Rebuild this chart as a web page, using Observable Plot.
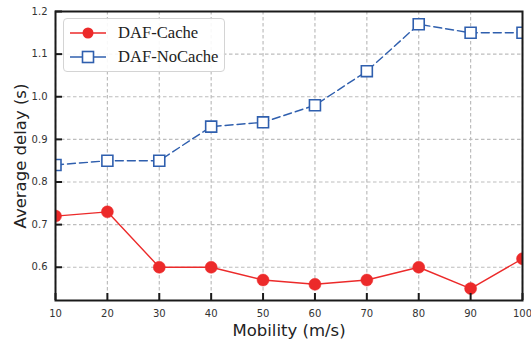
<!DOCTYPE html>
<html><head><meta charset="utf-8">
<script src="https://cdn.jsdelivr.net/npm/d3@7"></script>
<script src="https://cdn.jsdelivr.net/npm/@observablehq/plot@0.6"></script>
<style>
body{margin:0;background:#fff;}
#wrap{position:relative;width:531px;height:342px;}
.legend{position:absolute;left:63px;top:18px;width:162px;height:54px;border:1px solid #d4d4d4;border-radius:4px;background:rgba(255,255,255,0.9);box-sizing:border-box;font-family:"Liberation Serif","Times New Roman",serif;font-size:16.6px;color:#222;}
.legend .row{position:absolute;left:0;height:20px;width:100%;}
.legend svg{position:absolute;left:4px;top:0;}
.legend span{position:absolute;left:54px;top:0;line-height:20px;white-space:nowrap;}
</style></head><body><div id="wrap"></div>
<script>
const mobility = [10, 20, 30, 40, 50, 60, 70, 80, 90, 100];
const cacheDelay = [0.72, 0.73, 0.60, 0.60, 0.57, 0.56, 0.57, 0.60, 0.55, 0.62];
const noCacheDelay = [0.84, 0.85, 0.85, 0.93, 0.94, 0.98, 1.06, 1.17, 1.15, 1.15];
const seriesNames = ["DAF-Cache", "DAF-NoCache"];
const seriesColors = ["#ec2a2a", "#2f5fae"];
const xTicks = [10, 20, 30, 40, 50, 60, 70, 80, 90, 100];
const yTicks = [0.6, 0.7, 0.8, 0.9, 1.0, 1.1, 1.2];
const xLabel = "Mobility (m/s)";
const yLabel = "Average delay (s)";

const W = 531, H = 342, mL = 55, mR = 9, mT = 11, mB = 42;
const plotW = W - mL - mR, plotH = H - mT - mB;

const cache = mobility.map((m, i) => ({x: m, y: cacheDelay[i]}));
const noCache = mobility.map((m, i) => ({x: m, y: noCacheDelay[i]}));

const chart = Plot.plot({
  width: W, height: H,
  marginLeft: mL, marginRight: mR, marginTop: mT, marginBottom: mB,
  style: {fontFamily: "'DejaVu Sans', sans-serif", fontSize: "10px", color: "#333", background: "#fff"},
  x: {domain: [10, 100], ticks: xTicks},
  y: {domain: [0.522, 1.2], ticks: yTicks},
  marks: [
    Plot.gridX(xTicks, {stroke: "#bdbdbd", strokeOpacity: 1, strokeDasharray: "3.5,2.5", strokeWidth: 1.2}),
    Plot.gridY(yTicks, {stroke: "#bdbdbd", strokeOpacity: 1, strokeDasharray: "3.5,2.5", strokeWidth: 1.2}),
    Plot.line(noCache, {x: "x", y: "y", stroke: seriesColors[1], strokeWidth: 1.4, strokeDasharray: "8,4", clip: true}),
    Plot.dot(noCache, {x: "x", y: "y", symbol: "square", r: 6.2, fill: "#fff", stroke: seriesColors[1], strokeWidth: 1.6, clip: true}),
    Plot.line(cache, {x: "x", y: "y", stroke: seriesColors[0], strokeWidth: 1.4, clip: true}),
    Plot.dot(cache, {x: "x", y: "y", r: 6, fill: seriesColors[0], stroke: seriesColors[0], strokeWidth: 0.5, clip: true}),
    Plot.tickX(xTicks, {x: d => d, stroke: "#1a1a1a", strokeWidth: 2, insetTop: plotH - 7}),
    Plot.tickY(yTicks, {y: d => d, stroke: "#1a1a1a", strokeWidth: 2, insetRight: plotW - 7}),
    Plot.axisX(xTicks, {tickSize: 0, tickPadding: 9, label: null, fill: "#333"}),
    Plot.axisY(yTicks, {tickSize: 0, tickPadding: 8, label: null, tickFormat: d3.format(".1f"), fill: "#333"}),
    Plot.frame({stroke: "#1a1a1a", strokeWidth: 2}),
    Plot.text([xLabel], {text: d => d, frameAnchor: "bottom", textAnchor: "middle", dy: 35, lineAnchor: "bottom", fontSize: 16.5, fill: "#222"}),
    Plot.text([yLabel], {text: d => d, frameAnchor: "left", textAnchor: "middle", dx: -30, rotate: -90, lineAnchor: "bottom", fontSize: 16.5, fill: "#222"})
  ]
});
const wrap = document.getElementById("wrap");
wrap.appendChild(chart);

const legend = document.createElement("div");
legend.className = "legend";
seriesNames.forEach((name, i) => {
  const row = document.createElement("div");
  row.className = "row";
  row.style.top = (4 + i * 24) + "px";
  const c = seriesColors[i];
  const marker = i === 0
    ? `<circle cx="20" cy="10" r="5.5" fill="${c}"/>`
    : `<rect x="14.5" y="4.5" width="11" height="11" fill="#fff" stroke="${c}" stroke-width="1.6"/>`;
  row.innerHTML = `<svg width="40" height="20"><line x1="2" x2="38" y1="10" y2="10" stroke="${c}" stroke-width="1.6"/>${marker}</svg><span>${name}</span>`;
  legend.appendChild(row);
});
wrap.appendChild(legend);
</script></body></html>
